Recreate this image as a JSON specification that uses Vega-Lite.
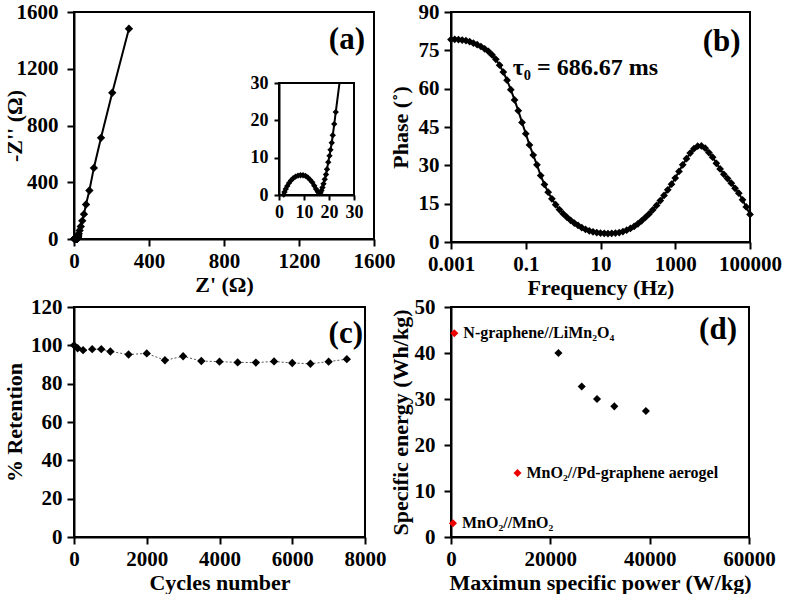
{
  "$schema": "https://vega.github.io/schema/vega-lite/v6.json",
  "padding": {"left": 2, "top": 0, "right": 0, "bottom": 0},
  "background": "white",
  "columns": 2,
  "align": "each",
  "spacing": {"row": -4, "column": -8},
  "config": {
    "font": "Liberation Serif",
    "view": {"stroke": "black", "strokeWidth": 2},
    "axis": {
      "grid": false,
      "domainColor": "black", "domainWidth": 2,
      "tickColor": "black", "tickWidth": 2, "tickSize": 7,
      "labelFont": "Liberation Serif", "labelFontWeight": "bold", "labelFontSize": 21, "labelColor": "black",
      "titleFont": "Liberation Serif", "titleFontWeight": "bold", "titleFontSize": 22, "titleColor": "black",
      "labelFlush": false, "labelOverlap": false, "labelPadding": 4, "titlePadding": 3
    },
    "axisY": {"labelPadding": 5, "titlePadding": 4}
  },
  "concat": [
    {
      "width": 300, "height": 227,
      "data": {"values": [
        {"zr": 1.9, "zi": 0.1}, {"zr": 2.2, "zi": 0.8}, {"zr": 2.7, "zi": 1.6}, {"zr": 3.3, "zi": 2.4},
        {"zr": 4.0, "zi": 3.2}, {"zr": 4.8, "zi": 3.9}, {"zr": 5.7, "zi": 4.5}, {"zr": 6.6, "zi": 4.9},
        {"zr": 7.6, "zi": 5.2}, {"zr": 8.6, "zi": 5.3}, {"zr": 9.6, "zi": 5.3}, {"zr": 10.6, "zi": 5.1},
        {"zr": 11.5, "zi": 4.7}, {"zr": 12.4, "zi": 4.1}, {"zr": 13.3, "zi": 3.4}, {"zr": 14.1, "zi": 2.5},
        {"zr": 14.8, "zi": 1.6}, {"zr": 15.5, "zi": 0.9}, {"zr": 16.1, "zi": 0.5}, {"zr": 16.6, "zi": 0.6},
        {"zr": 17.0, "zi": 1.2}, {"zr": 17.4, "zi": 2.0}, {"zr": 17.8, "zi": 3.0}, {"zr": 18.3, "zi": 4.2},
        {"zr": 18.8, "zi": 5.5}, {"zr": 19.2, "zi": 6.9}, {"zr": 19.7, "zi": 8.8}, {"zr": 20.2, "zi": 10.5},
        {"zr": 20.6, "zi": 12.1}, {"zr": 21.1, "zi": 14.0}, {"zr": 21.5, "zi": 16.0}, {"zr": 22.1, "zi": 19.0},
        {"zr": 22.7, "zi": 22.2}, {"zr": 24.2, "zi": 30}, {"zr": 25.5, "zi": 37}, {"zr": 30, "zi": 60},
        {"zr": 36, "zi": 88}, {"zr": 44, "zi": 128}, {"zr": 53, "zi": 175}, {"zr": 64, "zi": 243},
        {"zr": 82, "zi": 342}, {"zr": 106, "zi": 501}, {"zr": 144, "zi": 713}, {"zr": 204, "zi": 1031},
        {"zr": 293, "zi": 1482}
      ]},
      "layer": [
        {
          "encoding": {
            "x": {"field": "zr", "type": "quantitative", "scale": {"domain": [0, 1600], "nice": false},
                  "axis": {"values": [0, 400, 800, 1200, 1600], "format": "d", "title": "Z' (Ω)"}},
            "y": {"field": "zi", "type": "quantitative", "scale": {"domain": [0, 1600], "nice": false},
                  "axis": {"values": [0, 400, 800, 1200, 1600], "format": "d", "title": "-Z'' (Ω)", "labelPadding": 9, "titlePadding": -10}}
          },
          "layer": [
            {"mark": {"type": "line", "color": "black", "strokeWidth": 2}},
            {"transform": [{"filter": "datum.zi != 30"}],
             "mark": {"type": "point", "shape": "diamond", "filled": true, "color": "black", "opacity": 1, "size": 70}},
            {"data": {"values": [{"zr": 1552, "zi": 1403, "t": "(a)"}]},
             "mark": {"type": "text", "align": "right", "baseline": "middle", "font": "Liberation Serif", "fontWeight": "bold", "fontSize": 31, "color": "black"},
             "encoding": {"text": {"field": "t"}}}
          ]
        },
        {
          "encoding": {
            "x": {"field": "zr", "type": "quantitative", "scale": {"domain": [0, 30], "range": [205, 280], "nice": false},
                  "axis": {"orient": "bottom", "offset": -44, "values": [0, 10, 20, 30], "title": null, "labelFontSize": 18, "tickSize": 5, "labelPadding": 3}},
            "y": {"field": "zi", "type": "quantitative", "scale": {"domain": [0, 30], "range": [183, 71], "nice": false},
                  "axis": {"orient": "left", "offset": -205, "values": [0, 10, 20, 30], "title": null, "labelFontSize": 18, "tickSize": 5, "labelPadding": 6}}
          },
          "layer": [
            {"data": {"values": [{"zr": 0, "zr2": 30, "zi": 0, "zi2": 30}]},
             "mark": {"type": "rect", "fill": null, "stroke": "black", "strokeWidth": 2},
             "encoding": {"x2": {"field": "zr2"}, "y2": {"field": "zi2"}}},
            {"transform": [{"filter": "datum.zr <= 30 && datum.zi <= 30"}],
             "mark": {"type": "line", "color": "black", "strokeWidth": 2}},
            {"transform": [{"filter": "datum.zr <= 30 && datum.zi < 30"}],
             "mark": {"type": "point", "shape": "diamond", "filled": true, "color": "black", "opacity": 1, "size": 40}}
          ]
        }
      ],
      "resolve": {"scale": {"x": "independent", "y": "independent"}, "axis": {"x": "independent", "y": "independent"}}
    },
    {
      "width": 299, "height": 230,
      "data": {"values": [
        {"f": 0.001, "p": 79.2}, {"f": 0.001259, "p": 79.3}, {"f": 0.001585, "p": 79.2}, {"f": 0.001995, "p": 79.0},
        {"f": 0.002512, "p": 78.8}, {"f": 0.003162, "p": 78.4}, {"f": 0.003981, "p": 77.8}, {"f": 0.005012, "p": 77.2},
        {"f": 0.00631, "p": 76.5}, {"f": 0.007943, "p": 75.6}, {"f": 0.01, "p": 74.6}, {"f": 0.01259, "p": 73.2},
        {"f": 0.01585, "p": 71.5}, {"f": 0.01995, "p": 69.2}, {"f": 0.02512, "p": 66.5}, {"f": 0.03162, "p": 63.3},
        {"f": 0.03981, "p": 59.6}, {"f": 0.05012, "p": 55.6}, {"f": 0.0631, "p": 51.4}, {"f": 0.07943, "p": 46.8},
        {"f": 0.1, "p": 42.4}, {"f": 0.1259, "p": 38.0}, {"f": 0.1585, "p": 34.0}, {"f": 0.1995, "p": 30.2},
        {"f": 0.2512, "p": 26.0}, {"f": 0.3162, "p": 22.5}, {"f": 0.3981, "p": 19.5}, {"f": 0.5012, "p": 16.9},
        {"f": 0.631, "p": 14.6}, {"f": 0.7943, "p": 12.7}, {"f": 1, "p": 11.1}, {"f": 1.259, "p": 9.7},
        {"f": 1.585, "p": 8.5}, {"f": 1.995, "p": 7.4}, {"f": 2.512, "p": 6.5}, {"f": 3.162, "p": 5.6},
        {"f": 3.981, "p": 4.9}, {"f": 5.012, "p": 4.4}, {"f": 6.31, "p": 4.0}, {"f": 7.943, "p": 3.7},
        {"f": 10, "p": 3.5}, {"f": 12.59, "p": 3.4}, {"f": 15.85, "p": 3.3}, {"f": 19.95, "p": 3.4},
        {"f": 25.12, "p": 3.5}, {"f": 31.62, "p": 3.7}, {"f": 39.81, "p": 4.1}, {"f": 50.12, "p": 4.6},
        {"f": 63.1, "p": 5.3}, {"f": 79.43, "p": 6.1}, {"f": 100, "p": 7.1}, {"f": 125.9, "p": 8.3},
        {"f": 158.5, "p": 9.6}, {"f": 199.5, "p": 11.0}, {"f": 251.2, "p": 12.6}, {"f": 316.2, "p": 14.3},
        {"f": 398.1, "p": 16.2}, {"f": 501.2, "p": 18.2}, {"f": 631, "p": 20.4}, {"f": 794.3, "p": 22.6},
        {"f": 1000, "p": 25.0}, {"f": 1259, "p": 27.6}, {"f": 1585, "p": 30.2}, {"f": 1995, "p": 32.6},
        {"f": 2512, "p": 34.8}, {"f": 3162, "p": 36.5}, {"f": 3981, "p": 37.5}, {"f": 5012, "p": 37.6},
        {"f": 6310, "p": 36.7}, {"f": 7943, "p": 35.0}, {"f": 10000, "p": 33.2}, {"f": 12590, "p": 30.8},
        {"f": 15850, "p": 28.6}, {"f": 19950, "p": 26.5}, {"f": 25120, "p": 24.8}, {"f": 31620, "p": 23.0},
        {"f": 39810, "p": 21.0}, {"f": 50120, "p": 19.1}, {"f": 63100, "p": 16.5}, {"f": 79430, "p": 13.7},
        {"f": 100000, "p": 10.8}
      ]},
      "encoding": {
        "x": {"field": "f", "type": "quantitative", "scale": {"type": "log", "domain": [0.001, 100000], "nice": false},
              "axis": {"values": [0.001, 0.1, 10, 1000, 100000], "format": "~g", "title": "Frequency (Hz)"}},
        "y": {"field": "p", "type": "quantitative", "scale": {"domain": [0, 90], "nice": false},
              "axis": {"values": [0, 15, 30, 45, 60, 75, 90], "title": "Phase (˚)", "titlePadding": 6}}
      },
      "layer": [
        {"mark": {"type": "line", "color": "black", "strokeWidth": 2}},
        {"mark": {"type": "point", "shape": "diamond", "filled": true, "color": "black", "opacity": 1, "size": 60}},
        {"data": {"values": [{"f": 0.045, "p": 68, "t": "τ₀ = 686.67 ms"}]},
         "mark": {"type": "text", "align": "left", "baseline": "middle", "font": "Liberation Serif", "fontWeight": "bold", "fontSize": 24, "color": "black"},
         "encoding": {"text": {"field": "t"}}},
        {"data": {"values": [{"f": 56000, "p": 78.3, "t": "(b)"}]},
         "mark": {"type": "text", "align": "right", "baseline": "middle", "font": "Liberation Serif", "fontWeight": "bold", "fontSize": 31, "color": "black"},
         "encoding": {"text": {"field": "t"}}}
      ]
    },
    {
      "width": 291, "height": 230,
      "data": {"values": [
        {"c": 0, "r": 100}, {"c": 100, "r": 98.5}, {"c": 250, "r": 97.5}, {"c": 500, "r": 98.0},
        {"c": 750, "r": 98.0}, {"c": 1000, "r": 96.8}, {"c": 1500, "r": 95.2}, {"c": 2000, "r": 95.8},
        {"c": 2500, "r": 92.2}, {"c": 3000, "r": 94.3}, {"c": 3500, "r": 91.8}, {"c": 4000, "r": 91.5},
        {"c": 4500, "r": 91.1}, {"c": 5000, "r": 91.0}, {"c": 5500, "r": 91.6}, {"c": 6000, "r": 90.8},
        {"c": 6500, "r": 90.4}, {"c": 7000, "r": 91.5}, {"c": 7500, "r": 92.8}
      ]},
      "encoding": {
        "x": {"field": "c", "type": "quantitative", "scale": {"domain": [0, 8000], "nice": false},
              "axis": {"values": [0, 2000, 4000, 6000, 8000], "format": "d", "title": "Cycles number"}},
        "y": {"field": "r", "type": "quantitative", "scale": {"domain": [0, 120], "nice": false},
              "axis": {"values": [0, 20, 40, 60, 80, 100, 120], "format": "d", "title": "% Retention", "titlePadding": 4}}
      },
      "layer": [
        {"mark": {"type": "line", "color": "#555555", "strokeWidth": 1, "strokeDash": [2, 2]}},
        {"mark": {"type": "point", "shape": "diamond", "filled": true, "color": "black", "opacity": 1, "size": 70}},
        {"data": {"values": [{"c": 7945, "r": 105.9, "t": "(c)"}]},
         "mark": {"type": "text", "align": "right", "baseline": "middle", "font": "Liberation Serif", "fontWeight": "bold", "fontSize": 31, "color": "black"},
         "encoding": {"text": {"field": "t"}}}
      ]
    },
    {
      "width": 298, "height": 230,
      "data": {"values": [
        {"pw": 21630, "e": 40.0, "s": "this"}, {"pw": 26320, "e": 32.7, "s": "this"},
        {"pw": 29400, "e": 30.0, "s": "this"}, {"pw": 32880, "e": 28.4, "s": "this"},
        {"pw": 39240, "e": 27.4, "s": "this"},
        {"pw": 670, "e": 44.3, "s": "ref", "label": "N-graphene//LiMn₂O₄"},
        {"pw": 13390, "e": 13.9, "s": "ref", "label": "MnO₂//Pd-graphene aerogel"},
        {"pw": 400, "e": 3.0, "s": "ref", "label": "MnO₂//MnO₂"}
      ]},
      "encoding": {
        "x": {"field": "pw", "type": "quantitative", "scale": {"domain": [0, 60000], "nice": false},
              "axis": {"values": [0, 20000, 40000, 60000], "format": "d", "title": "Maximun specific power (W/kg)"}},
        "y": {"field": "e", "type": "quantitative", "scale": {"domain": [0, 50], "nice": false},
              "axis": {"values": [0, 10, 20, 30, 40, 50], "format": "d", "title": "Specific energy (Wh/kg)", "labelPadding": 9, "titlePadding": 2}}
      },
      "layer": [
        {"mark": {"type": "point", "shape": "diamond", "filled": true, "opacity": 1, "size": 65},
         "encoding": {"color": {"field": "s", "type": "nominal", "scale": {"domain": ["this", "ref"], "range": ["black", "#ee0000"]}, "legend": null}}},
        {"transform": [{"filter": "datum.s == 'ref'"}],
         "mark": {"type": "text", "align": "left", "baseline": "middle", "dx": 9, "font": "Liberation Serif", "fontWeight": "bold", "fontSize": 16, "color": "black"},
         "encoding": {"text": {"field": "label"}}},
        {"data": {"values": [{"pw": 57580, "e": 45, "t": "(d)"}]},
         "mark": {"type": "text", "align": "right", "baseline": "middle", "font": "Liberation Serif", "fontWeight": "bold", "fontSize": 31, "color": "black"},
         "encoding": {"text": {"field": "t"}}}
      ]
    }
  ]
}
